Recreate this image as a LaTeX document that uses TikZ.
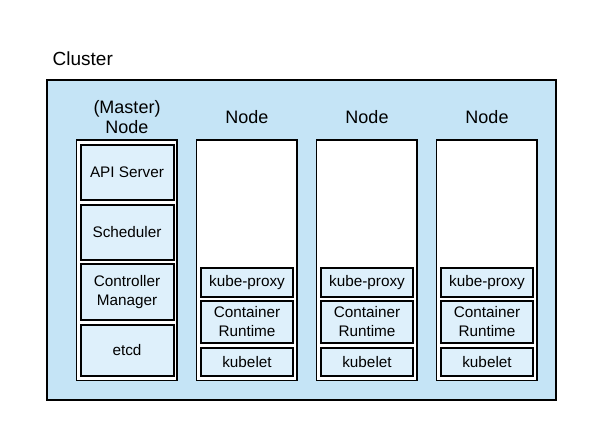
\documentclass[tikz,border=0pt]{standalone}
\usepackage{fontspec}
\setmainfont{Liberation Sans}
\definecolor{clusterfill}{RGB}{197,228,246}
\definecolor{compfill}{RGB}{222,240,251}
\begin{document}
\begin{tikzpicture}[x=1pt,y=-1pt,
  clusterbox/.style={draw=black,line width=2pt,fill=clusterfill,rectangle,inner sep=0pt},
  nodebox/.style={draw=black,line width=1.6pt,fill=white,rectangle,inner sep=0pt,minimum width=100.5pt,minimum height=240.5pt},
  comp/.style={draw=black,line width=2pt,fill=compfill,rectangle,inner sep=0pt,align=center,font=\fontsize{15.3}{18.3}\selectfont},
  mcomp/.style={comp,minimum width=93pt},
  wcomp/.style={comp,minimum width=92pt},
  hdr/.style={font=\fontsize{18}{20}\selectfont,align=center,inner sep=0pt},
  title/.style={font=\fontsize{19}{22}\selectfont,inner sep=0pt},
]
\useasboundingbox (0,0) rectangle (605,440);
\node[clusterbox,minimum width=509pt,minimum height=320pt] (cluster) at (301.5,240) {};
\node[title,anchor=base west] (clusterlabel) at (52.5,65) {Cluster};

% master
\node[hdr,anchor=base] (mhdr) at (127,133.3) {(Master)\\Node};
\node[nodebox] (master) at (126.75,260.25) {};
\node[mcomp,minimum height=55pt] (api) at (127,172.5) {API Server};
\node[mcomp,minimum height=55pt] (sched) at (127,232) {Scheduler};
\node[mcomp,minimum height=56pt] (ctrl) at (127,292) {Controller\\Manager};
\node[mcomp,minimum height=51.5pt] (etcd) at (127,350.25) {etcd};

% workers
\foreach \i/\dx in {1/0,2/120,3/240}{
  \node[hdr,anchor=base] (whdr\i) at (247+\dx,123.3) {Node};
  \node[nodebox] (worker\i) at (246.75+\dx,260.25) {};
  \node[wcomp,minimum height=28.5pt] (proxy\i) at (247+\dx,282.25) {kube-proxy};
  \node[wcomp,minimum height=42pt] (runtime\i) at (247+\dx,321.5) {Container\\Runtime};
  \node[wcomp,minimum height=28.5pt] (kubelet\i) at (247+\dx,361.75) {kubelet};
}
\end{tikzpicture}
\end{document}
